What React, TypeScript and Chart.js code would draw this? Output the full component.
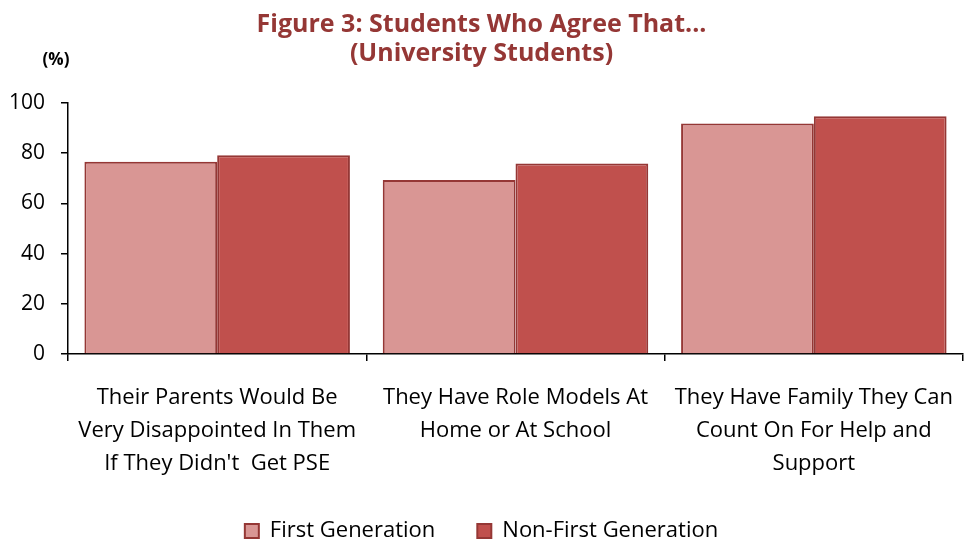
import React, { useEffect, useRef } from "react";
import { Chart, registerables } from "chart.js";

Chart.register(...registerables);

const titleLines = ["Figure 3: Students Who Agree That...", "(University Students)"];
const categories = [
  ["Their Parents Would Be", "Very Disappointed In Them", "If They Didn't  Get PSE"],
  ["They Have Role Models At", "Home or At School"],
  ["They Have Family They Can", "Count On For Help and", "Support"],
];
const firstGen = [76.6, 69.3, 91.8];
const nonFirstGen = [79.2, 75.9, 94.7];
const seriesNames = ["First Generation", "Non-First Generation"];
const yTicks = [0, 20, 40, 60, 80, 100];
const unitLabel = "(%)";

const FONT = "'Open Sans', 'DejaVu Sans', sans-serif";

const unitPlugin = {
  id: "unitLabel",
  afterDraw(chart: any) {
    const ctx = chart.ctx;
    ctx.save();
    ctx.font = `bold 17px ${FONT}`;
    ctx.fillStyle = "#000";
    ctx.textAlign = "center";
    ctx.textBaseline = "middle";
    ctx.fillText(unitLabel, 56, 60);
    ctx.restore();
  },
};

export default function App() {
  const ref = useRef<HTMLCanvasElement | null>(null);
  useEffect(() => {
    if (!ref.current) return;
    const chart = new Chart(ref.current, {
      type: "bar",
      data: {
        labels: categories as any,
        datasets: [
          {
            label: seriesNames[0],
            data: firstGen,
            backgroundColor: "#D99694",
            borderColor: "#953735",
            borderWidth: 2,
            categoryPercentage: 0.89,
            barPercentage: 1,
          },
          {
            label: seriesNames[1],
            data: nonFirstGen,
            backgroundColor: "#C0504D",
            borderColor: "#953735",
            borderWidth: 2,
            categoryPercentage: 0.89,
            barPercentage: 1,
          },
        ],
      },
      options: {
        responsive: false,
        animation: false,
        layout: { padding: { left: 0, right: 2, top: 0, bottom: -10 } },
        plugins: {
          title: {
            display: true,
            text: titleLines,
            color: "#953735",
            font: { family: FONT, size: 25, weight: "bold", lineHeight: 1.16 },
            padding: { top: 10, bottom: 35 },
          },
          legend: {
            display: true,
            position: "bottom",
            labels: {
              color: "#000",
              font: { family: FONT, size: 22 },
              boxWidth: 14,
              boxHeight: 14,
              padding: 42,
            },
          },
          tooltip: { enabled: false },
        },
        scales: {
          x: {
            grid: {
              display: true,
              offset: true,
              drawOnChartArea: false,
              drawTicks: true,
              tickLength: 7,
              color: "#000",
              lineWidth: 1.5,
            },
            border: { display: true, color: "#000", width: 1.5 },
            ticks: {
              color: "#000",
              font: { family: FONT, size: 22, lineHeight: 1.5 },
              maxRotation: 0,
              autoSkip: false,
              padding: 20,
            },
            afterFit: (scale: any) => {
              scale.height = 124;
              scale.paddingLeft = 0;
              scale.paddingRight = 0;
            },
          },
          y: {
            min: 0,
            max: 100,
            afterBuildTicks: (scale: any) => {
              scale.ticks = yTicks.map((v) => ({ value: v }));
            },
            grid: {
              display: true,
              drawOnChartArea: false,
              drawTicks: true,
              tickLength: 7,
              color: "#000",
              lineWidth: 1.5,
            },
            border: { display: true, color: "#000", width: 1.5 },
            ticks: {
              color: "#000",
              font: { family: FONT, size: 21 },
              padding: 16,
            },
            afterFit: (scale: any) => {
              scale.width = 68;
            },
          },
        },
      },
      plugins: [unitPlugin],
    });
    return () => chart.destroy();
  }, []);
  return (
    <div style={{ position: "absolute", left: 0, top: 0, width: 965, height: 542 }}>
      <canvas ref={ref} width={965} height={542} />
    </div>
  );
}
